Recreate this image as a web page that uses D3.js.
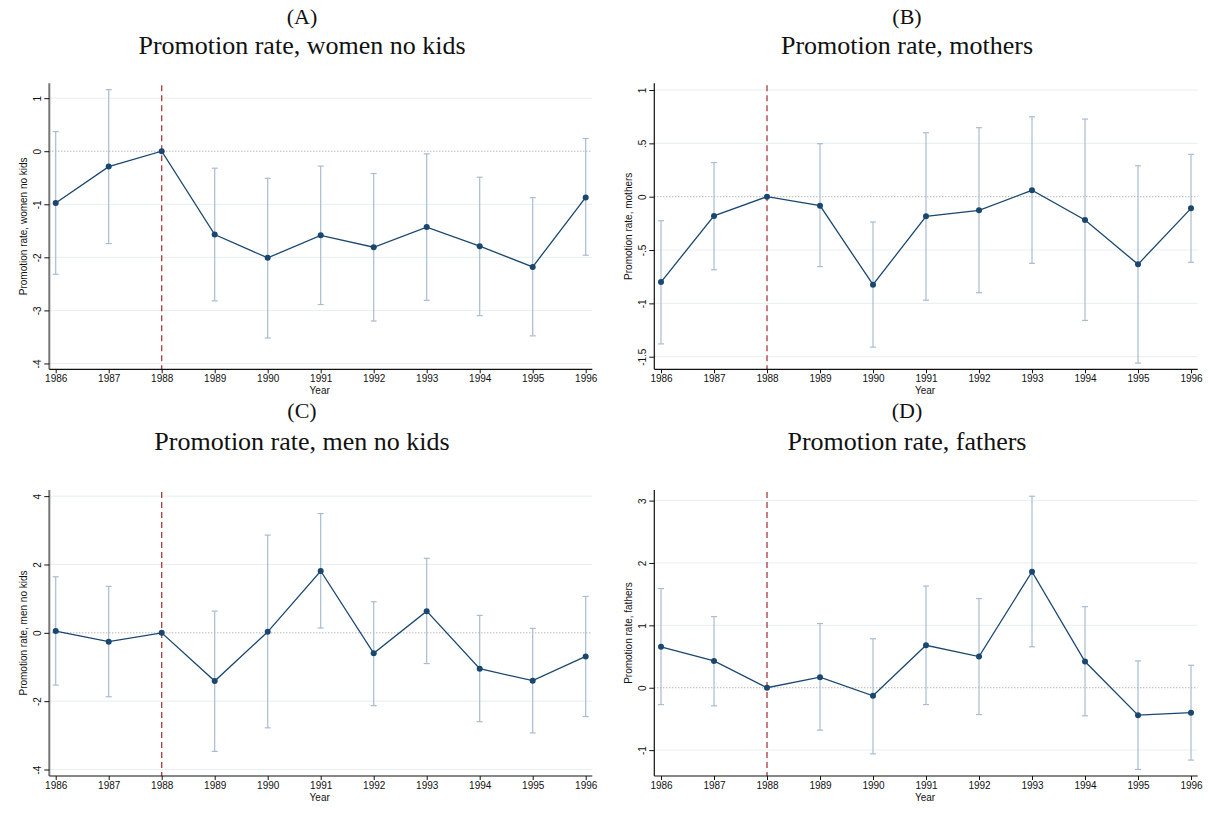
<!DOCTYPE html>
<html><head><meta charset="utf-8">
<script src="https://cdn.jsdelivr.net/npm/d3@7"></script>
<style>body{margin:0;background:#fff}svg{display:block}</style>
</head><body>
<svg id="c" width="1210" height="818"></svg>
<script>
const years = [1986,1987,1988,1989,1990,1991,1992,1993,1994,1995,1996];
const refYear = 1988;

const womenNoKids      = [-0.975,-0.29,0,-1.57,-2.01,-1.585,-1.81,-1.43,-1.79,-2.18,-0.87];
const womenNoKidsLo    = [-2.32,-1.74,null,-2.82,-3.52,-2.89,-3.20,-2.81,-3.10,-3.48,-1.96];
const womenNoKidsHi    = [0.37,1.16,null,-0.32,-0.51,-0.28,-0.42,-0.05,-0.49,-0.875,0.24];
const womenNoKidsTicks = [1,0,-1,-2,-3,-4];
const womenNoKidsTickLabels = ["1","0","-1","-2","-3","-4"];

const mothers      = [-0.80,-0.18,0,-0.084,-0.825,-0.184,-0.128,0.06,-0.218,-0.634,-0.109];
const mothersLo    = [-1.38,-0.685,null,-0.656,-1.41,-0.97,-0.90,-0.625,-1.16,-1.56,-0.615];
const mothersHi    = [-0.225,0.32,null,0.497,-0.237,0.60,0.647,0.75,0.728,0.29,0.397];
const mothersTicks = [1,0.5,0,-0.5,-1,-1.5];
const mothersTickLabels = ["1",".5","0","-.5","-1","-1.5"];

const menNoKids      = [0.05,-0.26,0,-1.41,0.03,1.81,-0.60,0.635,-1.05,-1.40,-0.69];
const menNoKidsLo    = [-1.53,-1.87,null,-3.47,-2.78,0.14,-2.13,-0.90,-2.60,-2.93,-2.45];
const menNoKidsHi    = [1.64,1.36,null,0.635,2.86,3.49,0.91,2.18,0.51,0.13,1.065];
const menNoKidsTicks = [4,2,0,-2,-4];
const menNoKidsTickLabels = ["4","2","0","-2","-4"];

const fathers      = [0.657,0.43,0,0.17,-0.13,0.68,0.50,1.86,0.42,-0.44,-0.40];
const fathersLo    = [-0.27,-0.29,null,-0.68,-1.06,-0.27,-0.43,0.657,-0.45,-1.31,-1.16];
const fathersHi    = [1.59,1.14,null,1.03,0.785,1.63,1.43,3.07,1.30,0.43,0.36];
const fathersTicks = [3,2,1,0,-1];
const fathersTickLabels = ["3","2","1","0","-1"];

const panelLetters = ["(A)","(B)","(C)","(D)"];
const panelTitles = ["Promotion rate, women no kids","Promotion rate, mothers","Promotion rate, men no kids","Promotion rate, fathers"];
const xTitle = "Year";

const panels = [
  {letter:panelLetters[0], title:panelTitles[0], yTitle:"Promotion rate, women no kids",
   est:womenNoKids, lo:womenNoKidsLo, hi:womenNoKidsHi, ticks:womenNoKidsTicks, tickLabels:womenNoKidsTickLabels,
   yDom:[-4.11,1.28], left:49.3, right:592.3, x0:55.7, x1:585.7, top:83.3, bottom:369.3, cx:302, ly:24, ty:54, grayAxis:true},
  {letter:panelLetters[1], title:panelTitles[1], yTitle:"Promotion rate, mothers",
   est:mothers, lo:mothersLo, hi:mothersHi, ticks:mothersTicks, tickLabels:mothersTickLabels,
   yDom:[-1.618,1.063], left:654.3, right:1197.7, x0:661, x1:1191, top:83.3, bottom:369.3, cx:907, ly:24, ty:54, grayAxis:false},
  {letter:panelLetters[2], title:panelTitles[2], yTitle:"Promotion rate, men no kids",
   est:menNoKids, lo:menNoKidsLo, hi:menNoKidsHi, ticks:menNoKidsTicks, tickLabels:menNoKidsTickLabels,
   yDom:[-4.19,4.18], left:49.3, right:592.3, x0:55.7, x1:585.7, top:490, bottom:776, cx:302, ly:418, ty:450, grayAxis:true},
  {letter:panelLetters[3], title:panelTitles[3], yTitle:"Promotion rate, fathers",
   est:fathers, lo:fathersLo, hi:fathersHi, ticks:fathersTicks, tickLabels:fathersTickLabels,
   yDom:[-1.415,3.17], left:654.3, right:1197.7, x0:661, x1:1191, top:490, bottom:776, cx:907, ly:418, ty:450, grayAxis:false}
];

const svg = d3.select("#c");
const navy = "#1a476f", ciCol = "#a9bcd1", refCol = "#a83a3e", gridCol = "#e6eff1";
const sans = "'Liberation Sans', Arial, sans-serif";
const serif = "'Liberation Serif', 'DejaVu Serif', serif";

panels.forEach(p => {
  const g = svg.append("g");
  const x = d3.scaleLinear().domain([years[0], years[years.length-1]]).range([p.x0, p.x1]);
  const y = d3.scaleLinear().domain(p.yDom).range([p.bottom, p.top]);

  g.append("text").attr("x",p.cx).attr("y",p.ly).attr("text-anchor","middle")
    .attr("font-family",serif).attr("font-size",22).attr("fill","#111").text(p.letter);
  g.append("text").attr("x",p.cx).attr("y",p.ty).attr("text-anchor","middle")
    .attr("font-family",serif).attr("font-size",26).attr("fill","#111").text(p.title);

  g.selectAll(".grid").data(p.ticks.filter(t=>t!==0)).join("line")
    .attr("x1",p.left).attr("x2",p.right).attr("y1",d=>y(d)).attr("y2",d=>y(d))
    .attr("stroke",gridCol).attr("stroke-width",1);
  g.append("line").attr("x1",p.left).attr("x2",p.right).attr("y1",y(0)).attr("y2",y(0))
    .attr("stroke","#8a8a8a").attr("stroke-width",0.9).attr("stroke-dasharray","1,2");

  g.append("line").attr("x1",x(refYear)).attr("x2",x(refYear)).attr("y1",p.top+2).attr("y2",p.bottom)
    .attr("stroke",refCol).attr("stroke-width",1.3).attr("stroke-dasharray","6,4");

  const ci = years.map((yr,i)=>({yr, lo:p.lo[i], hi:p.hi[i]})).filter(d=>d.lo!==null);
  const eb = g.selectAll(".eb").data(ci).join("g");
  eb.append("line").attr("x1",d=>x(d.yr)).attr("x2",d=>x(d.yr)).attr("y1",d=>y(d.lo)).attr("y2",d=>y(d.hi))
    .attr("stroke",ciCol).attr("stroke-width",1.2);
  eb.append("line").attr("x1",d=>x(d.yr)-3).attr("x2",d=>x(d.yr)+3).attr("y1",d=>y(d.lo)).attr("y2",d=>y(d.lo))
    .attr("stroke",ciCol).attr("stroke-width",1.2);
  eb.append("line").attr("x1",d=>x(d.yr)-3).attr("x2",d=>x(d.yr)+3).attr("y1",d=>y(d.hi)).attr("y2",d=>y(d.hi))
    .attr("stroke",ciCol).attr("stroke-width",1.2);

  const pts = years.map((yr,i)=>({yr, v:p.est[i]}));
  g.append("path").datum(pts).attr("fill","none").attr("stroke",navy).attr("stroke-width",1.3)
    .attr("d", d3.line().x(d=>x(d.yr)).y(d=>y(d.v)));
  g.selectAll(".pt").data(pts).join("circle").attr("cx",d=>x(d.yr)).attr("cy",d=>y(d.v)).attr("r",3)
    .attr("fill",navy);

  const ya = g.append("g").attr("transform",`translate(${p.left},0)`)
    .call(d3.axisLeft(y).tickValues(p.ticks).tickFormat((d,i)=>p.tickLabels[i]).tickSize(5).tickPadding(3));
  ya.select(".domain").attr("d",`M0,${p.top}V${p.bottom}`)
    .attr("stroke", p.grayAxis ? "#777" : "#111").attr("stroke-width", p.grayAxis ? 2 : 1.2);
  ya.selectAll(".tick line").attr("stroke","#111");
  ya.selectAll(".tick text").attr("font-family",sans).attr("font-size",10).attr("fill","#111")
    .attr("transform","rotate(-90)").attr("x",0).attr("dy",0).attr("y",-8).attr("text-anchor","middle");

  const xa = g.append("g").attr("transform",`translate(0,${p.bottom})`)
    .call(d3.axisBottom(x).tickValues(years).tickFormat(d3.format("d")).tickSize(4).tickPadding(2));
  xa.select(".domain").attr("d",`M${p.left},0H${p.right}`).attr("stroke","#111").attr("stroke-width",1.2);
  xa.selectAll(".tick line").attr("stroke","#111");
  xa.selectAll(".tick text").attr("font-family",sans).attr("font-size",10).attr("fill","#111");

  g.append("text").attr("x",x(1991)-1).attr("y",p.bottom+24.5).attr("text-anchor","middle")
    .attr("font-family",sans).attr("font-size",10).attr("fill","#111").text(xTitle);
  g.append("text").attr("transform",`translate(${p.left-26},${(p.top+p.bottom)/2}) rotate(-90)`)
    .attr("text-anchor","middle").attr("dy","0.35em")
    .attr("font-family",sans).attr("font-size",10).attr("fill","#111").text(p.yTitle);
});
</script>
</body></html>
